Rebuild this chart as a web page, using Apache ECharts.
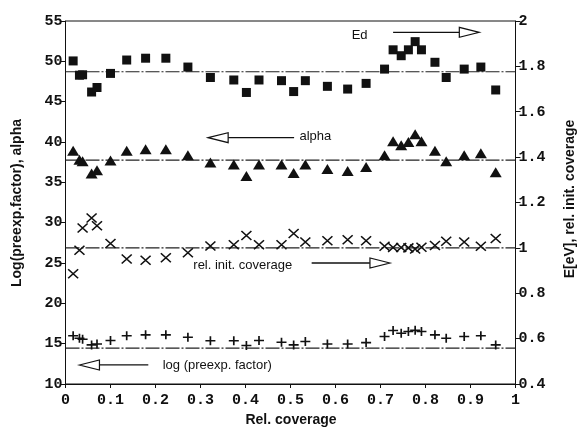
<!DOCTYPE html>
<html><head><meta charset="utf-8">
<script src="https://cdn.jsdelivr.net/npm/echarts@6/dist/echarts.min.js"></script>
<style>html,body{margin:0;padding:0;background:#fff}#c{width:579px;height:429px}</style>
</head><body><div id="c"></div>
<script>
// Rel. coverage (x) for every measurement
const relCoverage = [0.017, 0.031, 0.038, 0.058, 0.070, 0.100, 0.136, 0.178, 0.223, 0.272, 0.322, 0.374, 0.402, 0.430, 0.480, 0.507, 0.533, 0.582, 0.627, 0.668, 0.709, 0.728, 0.746, 0.762, 0.777, 0.791, 0.821, 0.846, 0.886, 0.923, 0.956];
// Ed [eV] (right axis)
const edValues = [1.824, 1.761, 1.763, 1.687, 1.707, 1.769, 1.828, 1.836, 1.836, 1.797, 1.751, 1.740, 1.685, 1.740, 1.737, 1.689, 1.737, 1.712, 1.700, 1.725, 1.788, 1.873, 1.847, 1.873, 1.909, 1.873, 1.818, 1.751, 1.788, 1.797, 1.696];
// alpha (left axis)
const alphaValues = [38.9, 37.8, 37.6, 36.1, 36.5, 37.7, 38.9, 39.1, 39.1, 38.35, 37.45, 37.2, 35.8, 37.2, 37.2, 36.15, 37.2, 36.65, 36.4, 36.9, 38.35, 40.1, 39.6, 40.0, 40.95, 40.1, 38.9, 37.6, 38.35, 38.6, 36.25];
// rel. init. coverage (right axis)
const initCoverage = [0.886, 0.989, 1.088, 1.132, 1.098, 1.019, 0.951, 0.945, 0.956, 0.979, 1.008, 1.014, 1.055, 1.014, 1.014, 1.063, 1.026, 1.031, 1.036, 1.031, 1.007, 1.002, 1.002, 1.000, 0.995, 1.003, 1.011, 1.029, 1.026, 1.007, 1.041];
// log (preexp. factor) (left axis)
const logPreexp = [15.97, 15.68, 15.56, 14.85, 14.97, 15.38, 15.97, 16.09, 16.09, 15.8, 15.35, 15.35, 14.76, 15.38, 15.18, 14.85, 15.26, 14.97, 14.97, 15.13, 15.88, 16.63, 16.3, 16.5, 16.67, 16.5, 16.09, 15.68, 15.88, 15.97, 14.85];
// mean levels (horizontal reference lines)
const edLevel = 1.776, alphaLevel = 37.75, coverageLevel = 1.0, preexpLevel = 14.45;
const xRange = [0, 1];
// annotation labels
const labelEd = 'Ed', labelAlpha = 'alpha', labelCoverage = 'rel. init. coverage', labelPreexp = 'log (preexp. factor)';
const titleX = 'Rel. coverage', titleLeft = 'Log(preexp.factor), alpha', titleRight = 'E[eV], rel. init. coverage';

const ink = '#111';
const tickFont = {fontFamily: '"Liberation Mono", monospace', fontSize: 15, fontWeight: 'bold', color: ink};
const pair = (xs, ys) => xs.map((x, i) => [x, ys[i]]);
const levelLine = (v, yi) => ({
  type: 'line', yAxisIndex: yi, data: xRange.map(x => [x, v]), symbol: 'none', silent: true, z: 1,
  lineStyle: {color: '#222', width: 1.1, type: [14, 2, 2, 2]}
});

const chart = echarts.init(document.getElementById('c'), null, {renderer: 'canvas'});
chart.setOption({
  animation: false,
  grid: {left: 65.5, right: 63.5, top: 21, bottom: 45, show: true, borderColor: ink, borderWidth: 1, backgroundColor: 'transparent'},
  xAxis: {
    type: 'value', min: 0, max: 1, interval: 0.1,
    axisLine: {lineStyle: {color: ink}}, axisTick: {inside: false, length: 4, lineStyle: {color: ink}},
    axisLabel: Object.assign({margin: 9}, tickFont), splitLine: {show: false}
  },
  yAxis: [
    {type: 'value', min: 10, max: 55, interval: 5, position: 'left',
     axisLine: {show: true, lineStyle: {color: ink}}, axisTick: {show: true, length: 5, lineStyle: {color: ink}},
     axisLabel: Object.assign({margin: 3}, tickFont), splitLine: {show: false}},
    {type: 'value', min: 0.4, max: 2, interval: 0.2, position: 'right',
     axisLine: {show: true, lineStyle: {color: ink}}, axisTick: {show: true, length: 5, lineStyle: {color: ink}},
     axisLabel: Object.assign({margin: 3}, tickFont), splitLine: {show: false}}
  ],
  series: [
    levelLine(edLevel, 1), levelLine(alphaLevel, 0), levelLine(coverageLevel, 1), levelLine(preexpLevel, 0),
    {type: 'scatter', yAxisIndex: 1, data: pair(relCoverage, edValues), symbol: 'rect', symbolSize: [9, 9], itemStyle: {color: ink, opacity: 1}, z: 3},
    {type: 'scatter', yAxisIndex: 0, data: pair(relCoverage, alphaValues), symbol: 'triangle', symbolSize: [12, 10], itemStyle: {color: ink, opacity: 1}, z: 3},
    {type: 'scatter', yAxisIndex: 1, data: pair(relCoverage, initCoverage), symbol: 'path://M0,0L10,10M10,0L0,10', symbolSize: [10, 9],
     itemStyle: {color: 'rgba(0,0,0,0)', borderColor: ink, borderWidth: 1.5, opacity: 1}, z: 3},
    {type: 'scatter', yAxisIndex: 0, data: pair(relCoverage, logPreexp), symbol: 'path://M5,0L5,10M0,5L10,5', symbolSize: [10, 9],
     itemStyle: {color: 'rgba(0,0,0,0)', borderColor: ink, borderWidth: 1.6, opacity: 1}, z: 3}
  ]
});

// annotations placed in data coordinates (x, left-axis value)
const P = (x, y) => chart.convertToPixel({xAxisIndex: 0, yAxisIndex: 0}, [x, y]);
const arrow = (xFrom, xTip, yv) => {
  const a = P(xFrom, yv), b = P(xTip, yv);
  const dir = Math.sign(b[0] - a[0]);
  const headLen = 20, half = 5;
  const base = b[0] - dir * headLen;
  return [
    {type: 'line', shape: {x1: a[0], y1: a[1], x2: base, y2: b[1]}, style: {stroke: ink, lineWidth: 1.3}, z: 10},
    {type: 'polygon', shape: {points: [[b[0], b[1]], [base, b[1] - half], [base, b[1] + half]]}, style: {fill: '#fff', stroke: ink, lineWidth: 1.2}, z: 10}
  ];
};
const label = (txt, x, yv) => {
  const p = P(x, yv);
  return {type: 'text', x: p[0], y: p[1], z: 10,
    style: {text: txt, font: '13px "Liberation Sans", Arial, sans-serif', fill: ink, align: 'left', verticalAlign: 'middle', textAlign: 'left', textVerticalAlign: 'middle'}};
};
const title = (txt, x, y, rot) => ({type: 'text', x: x, y: y, rotation: rot, z: 10,
  style: {text: txt, font: 'bold 14px "Liberation Sans", Arial, sans-serif', fill: ink, align: 'center', verticalAlign: 'middle', textAlign: 'center', textVerticalAlign: 'middle'}});

const g = [].concat(
  arrow(0.728, 0.9196, 53.6), [label(labelEd, 0.636, 53.25)],
  arrow(0.508, 0.317, 40.54), [label(labelAlpha, 0.52, 40.7)],
  arrow(0.547, 0.721, 25.0), [label(labelCoverage, 0.284, 24.7)],
  arrow(0.184, 0.031, 12.36), [label(labelPreexp, 0.216, 12.36)],
  [title(titleX, 291, 420, 0), title(titleLeft, 17, 203, Math.PI / 2), title(titleRight, 570, 199, Math.PI / 2)]
);
chart.setOption({graphic: g});
</script></body></html>
